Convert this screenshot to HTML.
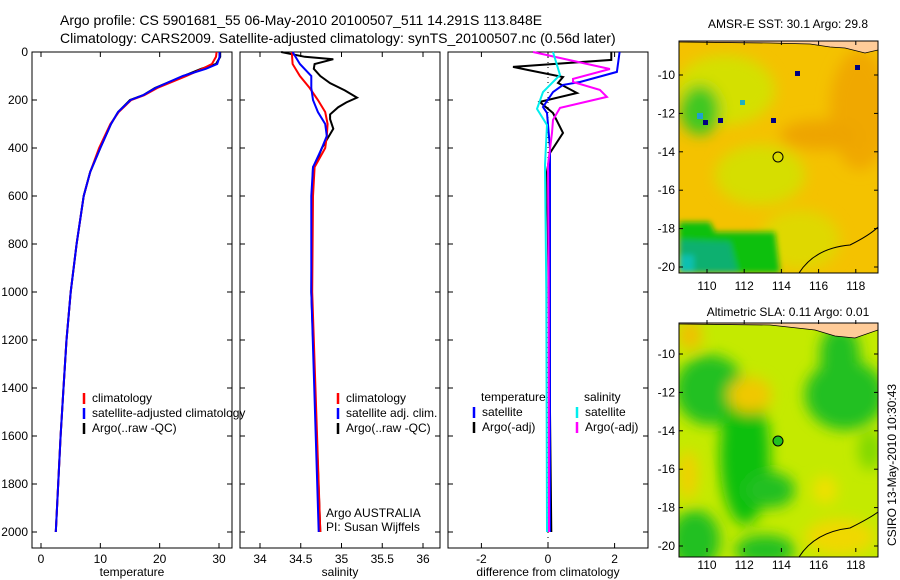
<!DOCTYPE html>
<html><head><meta charset="utf-8"><style>
html,body{margin:0;padding:0;background:#fff;}
svg{display:block;font-family:"Liberation Sans",sans-serif;}
text{fill:#000;}
</style></head><body>
<svg id="chart" width="900" height="580" viewBox="0 0 900 580" xmlns="http://www.w3.org/2000/svg">
<defs>
<filter id="bl" x="-50%" y="-50%" width="200%" height="200%"><feGaussianBlur stdDeviation="7"/></filter>
<filter id="bl2" x="-50%" y="-50%" width="200%" height="200%"><feGaussianBlur stdDeviation="3"/></filter>
<clipPath id="cm1"><rect x="679" y="41" width="199" height="232"/></clipPath>
<clipPath id="cm2"><rect x="679" y="323" width="199" height="234"/></clipPath>
</defs>
<text x="60" y="25" font-size="14">Argo profile: CS 5901681_55 06-May-2010 20100507_511 14.291S 113.848E</text>
<text x="60" y="43" font-size="14">Climatology: CARS2009. Satellite-adjusted climatology: synTS_20100507.nc (0.56d later)</text>

<g>
<text x="788" y="28" font-size="12" text-anchor="middle">AMSR-E SST: 30.1 Argo: 29.8</text>
<g clip-path="url(#cm1)">
<rect x="679" y="41" width="199" height="232" fill="#f4c200"/>
<g filter="url(#bl)">
<ellipse cx="725" cy="90" rx="50" ry="35" fill="#d4e000"/>
<ellipse cx="760" cy="175" rx="45" ry="30" fill="#d6de00"/>
<ellipse cx="860" cy="110" rx="30" ry="60" fill="#f0a800"/>
<ellipse cx="820" cy="135" rx="40" ry="15" fill="#eea400"/>
<ellipse cx="800" cy="240" rx="40" ry="30" fill="#dfd800"/>
<ellipse cx="700" cy="110" rx="20" ry="25" fill="#40c820"/>
</g>
<g filter="url(#bl2)">
<path d="M679 222 L710 222 L715 232 L775 232 L780 273 L679 273 Z" fill="#10c010"/>
<path d="M679 240 L730 242 L738 273 L679 273 Z" fill="#10b070"/>
<rect x="679" y="255" width="15" height="18" fill="#10c0b0"/>
</g>
<rect x="795" y="71" width="5" height="5" fill="#000080"/>
<rect x="855" y="65" width="5" height="5" fill="#000080"/>
<rect x="703" y="120" width="5" height="5" fill="#000080"/>
<rect x="718" y="118" width="5" height="5" fill="#000080"/>
<rect x="771" y="118" width="5" height="5" fill="#000080"/>
<rect x="697" y="113" width="6" height="6" fill="#20a0d0"/>
<rect x="740" y="100" width="5" height="5" fill="#20b0c0"/>
<path d="M679 41 L878 41 L878 50 L865 53 L845 48 L830 47 L810 44 L770 43 L679 42Z" fill="#ffcc99" stroke="#000" stroke-width="0.8"/>
<path d="M799 273 Q815 248 850 245 Q870 235 878 227" fill="none" stroke="#000" stroke-width="1"/>
</g>
<rect x="679" y="41" width="199" height="232" fill="none" stroke="#000"/>
<circle cx="778" cy="157" r="5" fill="none" stroke="#000"/>
<g id="m1ticks"></g>
</g>

<g>
<text x="788" y="316" font-size="12" text-anchor="middle">Altimetric SLA: 0.11 Argo: 0.01</text>
<g clip-path="url(#cm2)">
<rect x="679" y="323" width="199" height="234" fill="#c4ea00"/>
<g filter="url(#bl)">
<ellipse cx="710" cy="390" rx="35" ry="35" fill="#20c020"/>
<ellipse cx="745" cy="455" rx="25" ry="70" fill="#10c010"/>
<ellipse cx="770" cy="490" rx="25" ry="18" fill="#20c020"/>
<ellipse cx="845" cy="395" rx="40" ry="35" fill="#20c020"/>
<ellipse cx="840" cy="355" rx="20" ry="30" fill="#20c020"/>
<ellipse cx="695" cy="540" rx="25" ry="30" fill="#20c020"/>
<ellipse cx="765" cy="550" rx="30" ry="15" fill="#20c020"/>
<ellipse cx="870" cy="450" rx="12" ry="20" fill="#80d800"/>
<ellipse cx="750" cy="395" rx="22" ry="18" fill="#f0c800"/>
<ellipse cx="690" cy="335" rx="12" ry="15" fill="#f0c000"/>
<ellipse cx="688" cy="475" rx="10" ry="25" fill="#f0d000"/>
<ellipse cx="840" cy="537" rx="35" ry="18" fill="#f0d800"/>
<ellipse cx="825" cy="490" rx="12" ry="14" fill="#f0e000"/>
</g>
<path d="M679 323 L878 323 L878 330 L855 338 L835 336 L815 330 L770 325 L679 324Z" fill="#ffcc99" stroke="#000" stroke-width="0.8"/>
<path d="M799 557 Q815 532 850 528 Q870 518 878 512" fill="none" stroke="#000" stroke-width="1"/>
</g>
<rect x="679" y="323" width="199" height="234" fill="none" stroke="#000"/>
<circle cx="778" cy="441" r="5" fill="#20c020" stroke="#000"/>
<g id="m2ticks"></g>
</g>
<text transform="translate(896,465) rotate(-90)" font-size="12" text-anchor="middle">CSIRO 13-May-2010 10:30:43</text>

<g id="p1"></g>
<g id="p2"></g>
<g id="p3"></g>
</svg>
<script>
// ---- data ----
const depthTicks=[0,200,400,600,800,1000,1200,1400,1600,1800,2000];
const tempTicks=[0,10,20,30];
const salTicks=[34,34.5,35,35.5,36];
const salTickLabels=['34','34.5','35','35.5','36'];
const diffTicks=[-2,0,2];
const tArgoDepth=[0,20,50,70,100,150,180,200,250,300,400,500,600,800,1000,1200,1400,1600,1800,2000];
const tArgo=[30.2,30.2,29.5,27,24,19.2,17.2,15,13,11.8,10,8.3,7.2,6,5,4.3,3.8,3.3,2.9,2.5];
const tClim=[29.6,29.5,28.8,27.2,24.5,19.6,17.4,15.2,13.1,11.7,9.8,8.3,7.2,6,5,4.3,3.8,3.3,2.9,2.5];
const tSat=[30.1,30.1,29.7,27.8,23.9,19.3,17.2,15.1,13,11.8,10,8.3,7.2,6,5,4.3,3.8,3.3,2.9,2.5];
const sClimDepth=[0,50,100,150,200,250,300,350,400,480,600,1000,2000];
const sClim=[34.39,34.40,34.49,34.61,34.71,34.80,34.83,34.82,34.80,34.67,34.65,34.64,34.74];
const sSat=[34.40,34.49,34.63,34.63,34.65,34.71,34.80,34.82,34.76,34.65,34.63,34.63,34.72];
const sArgoDepth=[0,20,30,50,70,100,130,160,190,210,230,260,280,320,360,400,450,480,600,1000,2000];
const sArgo=[34.26,34.55,34.90,34.67,34.66,34.74,34.86,35.04,35.19,35.06,34.96,34.86,34.86,34.90,34.83,34.76,34.70,34.65,34.64,34.63,34.74];
const dTDepth=[0,33,62,75,104,129,171,208,254,337,421,500,1000,2000];
const dTArgo=[1.9,1.9,-1.05,-0.6,0.45,0.3,0.87,-0.25,0.15,0.45,0.06,-0.03,0.02,0.1];
const dTSatDepth=[0,83,125,137,167,229,254,400,1000,2000];
const dTSat=[2.15,2.07,0.96,0.45,0.15,-0.15,-0.03,0.06,0.06,0.06];
const dSDepth=[0,71,112,125,158,187,233,283,337,470,1000,2000];
const dSArgo=[-0.45,1.86,0.75,0.75,1.56,1.77,0.36,0.15,0.12,0,0.02,0.03];
const dSSatDepth=[0,96,167,237,304,470,1000,2000];
const dSSat=[0.15,0.36,-0.15,-0.33,-0.03,-0.09,-0.05,-0.03];
const mapXTicks=[110,112,114,116,118];
const mapYTicks=[-10,-12,-14,-16,-18,-20];
// ---- helpers ----
const NS='http://www.w3.org/2000/svg';
function mk(parent,tag,attrs,txt){const e=document.createElementNS(NS,tag);for(const k in attrs)e.setAttribute(k,attrs[k]);if(txt!==undefined)e.textContent=txt;parent.appendChild(e);return e;}
const yD=d=>52+d*48/200;
function panel(id,x0,xs,ticks,labels,xlabel,showY){
  const g=document.getElementById(id);
  const fr=mk(g,'rect',{x:x0,y:52,width:200,height:496,fill:'none',stroke:'#000'});
  
  
  ticks.forEach((t,i)=>{const x=xs(t);
    mk(g,'line',{x1:x,x2:x,y1:548,y2:543,stroke:'#000'});
    mk(g,'line',{x1:x,x2:x,y1:52,y2:57,stroke:'#000'});
    const tl=mk(g,'text',{x:x,y:563,'font-size':12,'text-anchor':'middle'},labels[i]);
    
    });
  depthTicks.forEach(d=>{const y=yD(d);
    mk(g,'line',{x1:x0,x2:x0+5,y1:y,y2:y,stroke:'#000'});
    mk(g,'line',{x1:x0+200,x2:x0+195,y1:y,y2:y,stroke:'#000'});
    if(showY){const tl=mk(g,'text',{x:x0-4,y:y+4,'font-size':12,'text-anchor':'end'},String(d));
      
      }});
  const xl=mk(g,'text',{x:x0+100,y:576,'font-size':12,'text-anchor':'middle'},xlabel);
  
  
  return g;}
function line(g,xs,depths,vals,col,name){
  const pts=depths.map((d,i)=>xs(vals[i]).toFixed(1)+','+yD(d).toFixed(1)).join(' ');
  const p=mk(g,'polyline',{points:pts,fill:'none',stroke:col,'stroke-width':2});
  
  }
function legend(g,x,y,col,txt){
  mk(g,'line',{x1:x,x2:x,y1:y-9,y2:y+2,stroke:col,'stroke-width':2.5});
  const t=mk(g,'text',{x:x+8,y:y,'font-size':12},txt);
  
  }
// panel 1
const xT=v=>41+v*178/30;
let g=panel('p1',32,xT,tempTicks,tempTicks.map(String),'temperature',true);
line(g,xT,tArgoDepth,tArgo,'#000','argo-temperature-line');
line(g,xT,tArgoDepth,tClim,'#f00','climatology-temperature-line');
line(g,xT,tArgoDepth,tSat,'#00f','satellite-temperature-line');
legend(g,84,402,'#f00','climatology');legend(g,84,417,'#00f','satellite-adjusted climatology');legend(g,84,432,'#000','Argo(..raw -QC)');
// panel 2
const xS=v=>260+(v-34)*81.5;
g=panel('p2',240,xS,salTicks,salTickLabels,'salinity',false);
line(g,xS,sArgoDepth,sArgo,'#000','argo-salinity-line');
line(g,xS,sClimDepth,sClim,'#f00','climatology-salinity-line');
line(g,xS,sClimDepth,sSat,'#00f','satellite-salinity-line');
legend(g,338,402,'#f00','climatology');legend(g,338,417,'#00f','satellite adj. clim.');legend(g,338,432,'#000','Argo(..raw -QC)');
let t=mk(g,'text',{x:326,y:517,'font-size':12},'Argo AUSTRALIA');


t=mk(g,'text',{x:326,y:531,'font-size':12},'PI: Susan Wijffels');


// panel 3
const xDf=v=>548+v*33.3;
g=panel('p3',448,xDf,diffTicks,diffTicks.map(String),'difference from climatology',false);
mk(g,'line',{x1:xDf(0),x2:xDf(0),y1:52,y2:548,stroke:'#000','stroke-dasharray':'1,4'});
line(g,xDf,dTDepth,dTArgo,'#000','argo-temp-diff-line');
line(g,xDf,dTSatDepth,dTSat,'#00f','satellite-temp-diff-line');
line(g,xDf,dSDepth,dSArgo,'#f0f','argo-sal-diff-line');
line(g,xDf,dSSatDepth,dSSat,'#0ee','satellite-sal-diff-line');
t=mk(g,'text',{x:481,y:401,'font-size':12},'temperature');


t=mk(g,'text',{x:584,y:401,'font-size':12},'salinity');


legend(g,474,416,'#00f','satellite');legend(g,474,431,'#000','Argo(-adj)');
legend(g,577,416,'#0ee','satellite');legend(g,577,431,'#f0f','Argo(-adj)');
// map ticks
function mapTicks(id,top){
  const gg=document.getElementById(id);
  const bot=top+232;
  mapXTicks.forEach(v=>{const x=707+(v-110)*18.6;
    mk(gg,'line',{x1:x,x2:x,y1:top,y2:top+4,stroke:'#000'});
    mk(gg,'line',{x1:x,x2:x,y1:bot,y2:bot-4,stroke:'#000'});
    const tl=mk(gg,'text',{x:x,y:bot+17,'font-size':12,'text-anchor':'middle'},String(v));
    
    });
  mapYTicks.forEach(v=>{const y=top+34+(-10-v)*19.2;
    mk(gg,'line',{x1:679,x2:683,y1:y,y2:y,stroke:'#000'});
    mk(gg,'line',{x1:878,x2:874,y1:y,y2:y,stroke:'#000'});
    const tl=mk(gg,'text',{x:675,y:y+4,'font-size':12,'text-anchor':'end'},String(v));
    
    });}
mapTicks('m1ticks',41);mapTicks('m2ticks',320);
</script>
</body></html>
